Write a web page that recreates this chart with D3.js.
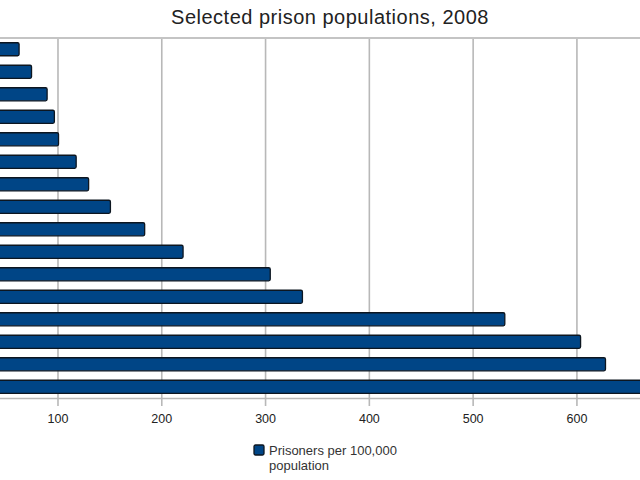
<!DOCTYPE html>
<html>
<head>
<meta charset="utf-8">
<script src="https://cdn.jsdelivr.net/npm/d3@7"></script>
<style>
  body { margin: 0; background: #fff; }
  svg { font-family: "Liberation Sans", Arial, sans-serif; }
</style>
</head>
<body>
<svg id="chart" width="640" height="480"></svg>
<script>
// data, top bar first (the category labels lie outside the cropped view)
const countries = ["Japan", "Sweden", "Germany", "France", "Netherlands", "Canada", "Australia",
  "England & Wales", "Mexico", "Brazil", "Israel", "South Africa", "Cuba", "Rwanda", "Russia", "United States"]
const prisoners = [63, 75, 90, 97, 101, 118, 130, 151, 184, 221, 305, 336, 531, 604, 628, 756]
const xTicks = [100, 200, 300, 400, 500, 600]
const seriesName = ["Prisoners per 100,000", "population"]

const svg = d3.select("#chart")
const plotTop = 38
const plotBottom = 398

// the picture is cropped, so zero sits left of the window
const xScale = d3.scaleLinear().domain([0, 800]).range([-46.3, 784])
const yScale = d3.scaleBand().domain(countries).range([plotTop, plotBottom]).paddingInner(0.42).paddingOuter(0.21)

svg.append("text")
  .attr("x", 330).attr("y", 24)
  .attr("text-anchor", "middle")
  .attr("font-size", 20)
  .attr("fill", "#222")
  .attr("letter-spacing", 0.5)
  .text("Selected prison populations, 2008")

// grid
const grid = d3.axisBottom(xScale).tickValues(xTicks).tickSize(-(plotBottom - plotTop)).tickFormat("")
svg.append("g").attr("transform", `translate(0, ${plotBottom})`).call(grid)
  .call(g => g.select(".domain").remove())
  .call(g => g.selectAll("line").attr("stroke", "#b8b8b8").attr("stroke-width", 1.6))

// top border
svg.append("line").attr("x1", 0).attr("x2", 640).attr("y1", plotTop).attr("y2", plotTop)
  .attr("stroke", "#c4c4c4").attr("stroke-width", 2)

// bars
svg.append("g")
  .selectAll("rect")
  .data(countries)
  .join("rect")
  .attr("x", xScale(0))
  .attr("y", d => yScale(d))
  .attr("width", (d, i) => xScale(prisoners[i]) - xScale(0))
  .attr("height", yScale.bandwidth())
  .attr("rx", 1.5)
  .attr("fill", "#004586")
  .attr("stroke", "#0d1620")
  .attr("stroke-width", 1.3)

// x axis
const xAxis = d3.axisBottom(xScale).tickValues(xTicks).tickSize(8).tickPadding(8)
svg.append("g").attr("transform", `translate(0, ${plotBottom})`).call(xAxis)
  .call(g => g.select(".domain").attr("stroke", "#b8b8b8").attr("stroke-width", 1.6))
  .call(g => g.selectAll("line").attr("stroke", "#b8b8b8").attr("stroke-width", 1.6))
  .call(g => g.selectAll("text").attr("font-size", 12.5).attr("fill", "#222")
    .attr("font-family", "Liberation Sans, Arial, sans-serif"))

// legend
const legend = svg.append("g").attr("transform", "translate(254, 445)")
legend.append("rect").attr("width", 10).attr("height", 10).attr("rx", 1.5)
  .attr("fill", "#004586").attr("stroke", "#0d1620").attr("stroke-width", 1.3)
legend.selectAll("text")
  .data(seriesName)
  .join("text")
  .attr("x", 15)
  .attr("y", (d, i) => 10 + i * 15)
  .attr("font-size", 13)
  .attr("fill", "#333")
  .text(d => d)
</script>
</body>
</html>
